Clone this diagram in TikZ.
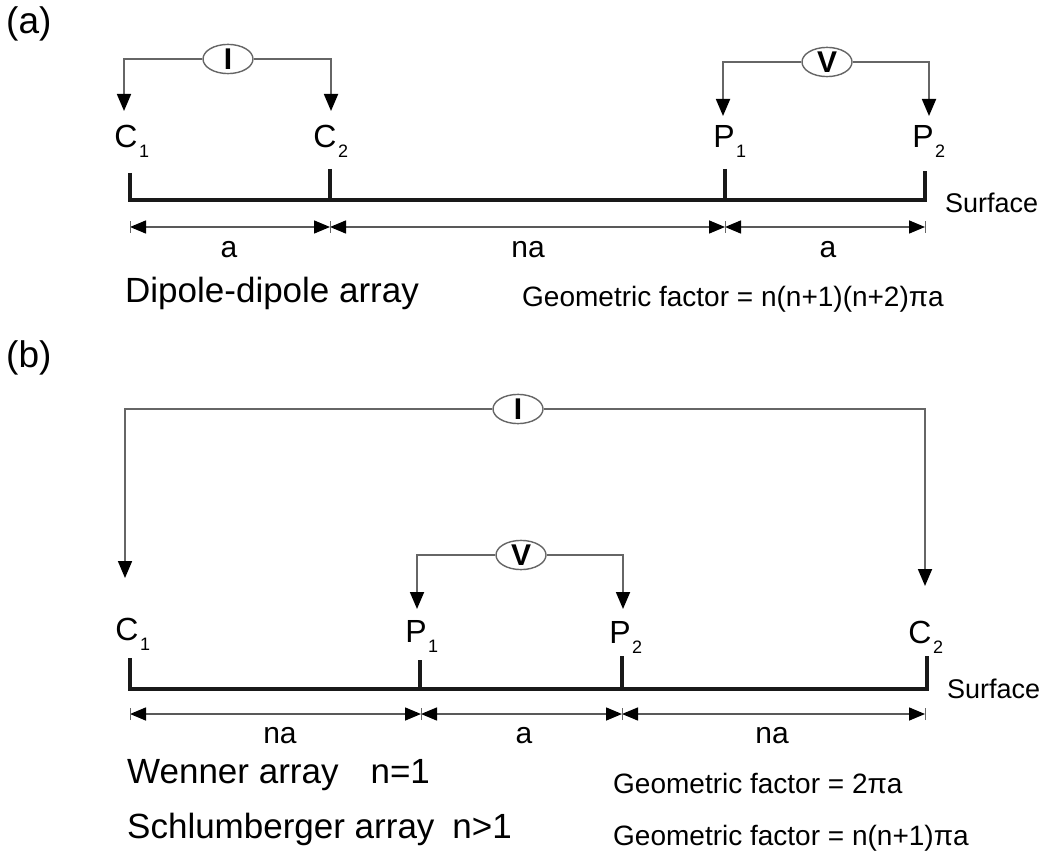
\documentclass[tikz,border=0pt]{standalone}
\usepackage{fontspec}
\setmainfont{Liberation Sans}
\usetikzlibrary{arrows.meta,shapes.geometric}
\newcommand\elab[2]{#1\rlap{\kern1.5pt\raisebox{-10pt}{\fontsize{18}{18}\selectfont #2}}}
\tikzset{
  wire/.style={draw=black!60, line width=1.8pt, -{Triangle[length=17pt,width=14pt]}, arrows={[color=black]}},
  meter/.style={ellipse, draw=black!60, line width=1.4pt, minimum width=50pt, minimum height=27pt, inner sep=0pt, font=\fontsize{30}{30}\selectfont\bfseries},
  surf/.style={draw=black!90, line width=4.5pt},
  dimline/.style={draw=black!65, line width=1.5pt, {Triangle[length=16pt,width=13pt,color=black]}-{Triangle[length=16pt,width=13pt,color=black]}},
  dimtick/.style={draw=black!60, line width=1pt},
  elec/.style={anchor=base, inner sep=0pt, font=\fontsize{32}{32}\selectfont},
  dlab/.style={anchor=base, inner sep=0pt, font=\fontsize{30}{30}\selectfont},
  title/.style={anchor=base west, inner sep=0pt, font=\fontsize{35}{35}\selectfont},
  geo/.style={anchor=base west, inner sep=0pt, font=\fontsize{28}{28}\selectfont},
  surflab/.style={anchor=base west, inner sep=0pt, font=\fontsize{27}{27}\selectfont},
  panel/.style={anchor=base west, inner sep=0pt, font=\fontsize{37}{37}\selectfont}
}
\begin{document}
\begin{tikzpicture}[x=1pt,y=-1pt]
\useasboundingbox (0,0) rectangle (1043,866);
% ---------------- (a) ----------------
\node[panel] (pa) at (6,34) {(a)};
% electrodes
\coordinate (sA0) at (130,200);
\coordinate (sA1) at (925,200);
\coordinate (tC1a) at (130,173);
\coordinate (tC2a) at (330,169);
\coordinate (tP1a) at (725,169);
\coordinate (tP2a) at (925,171);
\draw[surf] (tC1a) -- (sA0) -- (sA1) -- (tP2a);
\draw[surf] (tC2a) -- (330,200);
\draw[surf] (tP1a) -- (725,200);
\node[surflab] (surfA) at (945,213) {Surface};
\node[elec] (C1a) at (126,148) {\elab{C}{1}};
\node[elec] (C2a) at (325,148) {\elab{C}{2}};
\node[elec] (P1a) at (724,148) {\elab{P}{1}};
\node[elec] (P2a) at (923,148) {\elab{P}{2}};
% meters
\node[meter] (Ia) at (228,59) {I};
\node[meter] (Va) at (827,62) {V};
\coordinate (aC1a) at (124,111);
\coordinate (aC2a) at (331,111);
\coordinate (aP1a) at (723,116);
\coordinate (aP2a) at (929,116);
\draw[wire] (Ia.west) -| (aC1a);
\draw[wire] (Ia.east) -| (aC2a);
\draw[wire] (Va.west) -| (aP1a);
\draw[wire] (Va.east) -| (aP2a);
% dimensions
\coordinate (dA0) at (130,227);
\coordinate (dA1) at (330,227);
\coordinate (dA2) at (725,227);
\coordinate (dA3) at (925,227);
\draw[dimline] (dA0) -- (dA1);
\draw[dimline] (dA1) -- (dA2);
\draw[dimline] (dA2) -- (dA3);
\foreach \p in {dA0,dA1,dA2,dA3} \draw[dimtick] ([yshift=-6pt]\p) -- ([yshift=6pt]\p);
\node[dlab] (la1) at (229,258) {a};
\node[dlab] (la2) at (528,258) {na};
\node[dlab] (la3) at (828,258) {a};
\node[title] (dd) at (125,302) {Dipole-dipole array};
\node[geo] (gA) at (522,306) {Geometric factor = n(n+1)(n+2)πa};
% ---------------- (b) ----------------
\node[panel] (pb) at (6,367) {(b)};
\coordinate (sB0) at (130,689);
\coordinate (sB1) at (927,689);
\coordinate (tC1b) at (130,658);
\coordinate (tP1b) at (420,660);
\coordinate (tP2b) at (622,656);
\coordinate (tC2b) at (927,656);
\draw[surf] (tC1b) -- (sB0) -- (sB1) -- (tC2b);
\draw[surf] (tP1b) -- (420,689);
\draw[surf] (tP2b) -- (622,689);
\node[surflab] (surfB) at (947,698) {Surface};
\node[elec] (C1b) at (127,640) {\elab{C}{1}};
\node[elec] (P1b) at (416,642) {\elab{P}{1}};
\node[elec] (P2b) at (620,643) {\elab{P}{2}};
\node[elec] (C2b) at (920,643) {\elab{C}{2}};
\node[meter] (Ib) at (518,409) {I};
\node[meter] (Vb) at (521,555) {V};
\coordinate (aC1b) at (125,578);
\coordinate (aC2b) at (925,586);
\coordinate (aP1b) at (417,609);
\coordinate (aP2b) at (623,609);
\draw[wire] (Ib.west) -| (aC1b);
\draw[wire] (Ib.east) -| (aC2b);
\draw[wire] (Vb.west) -| (aP1b);
\draw[wire] (Vb.east) -| (aP2b);
\coordinate (dB0) at (130,714);
\coordinate (dB1) at (421,714);
\coordinate (dB2) at (622,714);
\coordinate (dB3) at (925,714);
\draw[dimline] (dB0) -- (dB1);
\draw[dimline] (dB1) -- (dB2);
\draw[dimline] (dB2) -- (dB3);
\foreach \p in {dB0,dB1,dB2,dB3} \draw[dimtick] ([yshift=-6pt]\p) -- ([yshift=6pt]\p);
\node[dlab] (lb1) at (280,743) {na};
\node[dlab] (lb2) at (524,743) {a};
\node[dlab] (lb3) at (772,743) {na};
\node[title] (wen) at (127,783) {Wenner array\hspace{32pt}n=1};
\node[title] (sch) at (127,838) {Schlumberger array\hspace{18pt}n>1};
\node[geo] (gB1) at (613,793) {Geometric factor = 2πa};
\node[geo] (gB2) at (613,845) {Geometric factor = n(n+1)πa};
\end{tikzpicture}
\end{document}
